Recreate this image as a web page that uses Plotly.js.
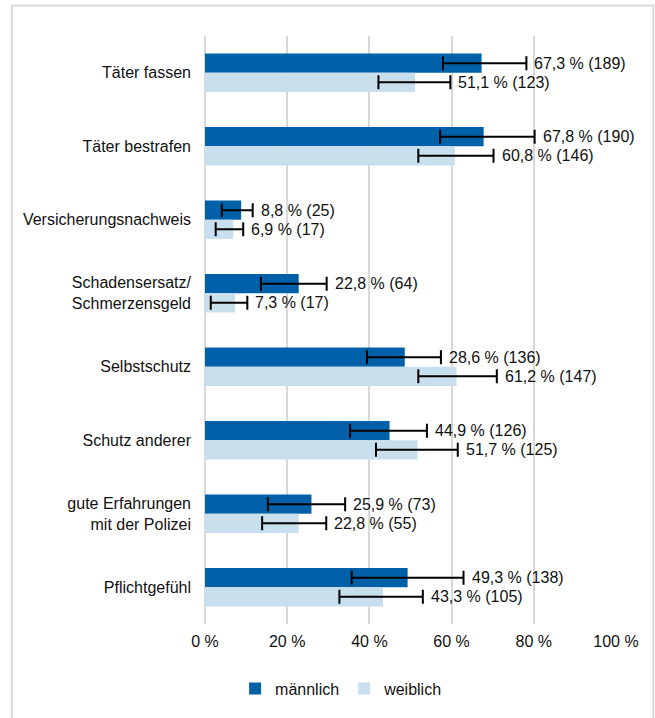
<!DOCTYPE html>
<html>
<head>
<meta charset="utf-8">
<script src="https://cdn.plot.ly/plotly-3.0.1.min.js"></script>
<style>
  html, body { margin: 0; padding: 0; background: #ffffff; }
  #chart { width: 655px; height: 718px; }
</style>
</head>
<body>
<div id="chart"></div>
<script>
// ---- data ----
const categories = [
  "Täter fassen",
  "Täter bestrafen",
  "Versicherungsnachweis",
  "Schadensersatz/<br>Schmerzensgeld",
  "Selbstschutz",
  "Schutz anderer",
  "gute Erfahrungen<br>mit der Polizei",
  "Pflichtgefühl"
];
const seriesNames = ["männlich", "weiblich"];

const valuesM = [67.3, 67.8, 8.8, 22.8, 48.6, 44.9, 25.9, 49.3];
const valuesW = [51.1, 60.8, 6.9, 7.3, 61.2, 51.7, 22.8, 43.3];

const ciLowM  = [57.9, 57.2, 4.1, 13.6, 39.4, 35.3, 15.3, 35.7];
const ciHighM = [78.2, 80.2, 11.6, 29.6, 57.4, 54.0, 34.1, 62.9];
const ciLowW  = [42.2, 51.9, 2.6, 1.4, 51.9, 41.6, 13.9, 32.7];
const ciHighW = [59.7, 70.2, 9.3, 10.3, 71.0, 61.5, 29.5, 53.0];

const labelsM = ["67,3 % (189)", "67,8 % (190)", "8,8 % (25)", "22,8 % (64)",
                 "28,6 % (136)", "44,9 % (126)", "25,9 % (73)", "49,3 % (138)"];
const labelsW = ["51,1 % (123)", "60,8 % (146)", "6,9 % (17)", "7,3 % (17)",
                 "61,2 % (147)", "51,7 % (125)", "22,8 % (55)", "43,3 % (105)"];

const xTickVals = [0, 20, 40, 60, 80, 100];
const xTickText = ["0 %", "20 %", "40 %", "60 %", "80 %", "100 %"];

// ---- styling ----
const colorM = "#0060A8";
const colorW = "#C8DFEE";
const gridColor = "#D9D9D9";
const textColor = "#111111";
const fontFamily = "Liberation Sans, Arial, sans-serif";
const fs = 16;

const W = 655, H = 718;
const margin = { l: 205, r: 39.3, t: 35.5, b: 93.7 };
const plotW = W - margin.l - margin.r;
const plotH = H - margin.t - margin.b;
const px2paperX = (px) => (px - margin.l) / plotW;
const px2paperY = (py) => (H - margin.b - py) / plotH;

const minus = (v, lo) => v.map((x, i) => +(x - lo[i]).toFixed(2));
const plus  = (v, hi) => v.map((x, i) => +(hi[i] - x).toFixed(2));

function barTrace(name, vals, lo, hi, color) {
  return {
    type: "bar",
    orientation: "h",
    name: name,
    y: categories,
    x: vals,
    marker: { color: color, line: { width: 0 } },
    error_x: {
      type: "data",
      symmetric: false,
      array: plus(vals, hi),
      arrayminus: minus(vals, lo),
      color: "#000000",
      thickness: 2,
      width: 7
    },
    hoverinfo: "skip"
  };
}

const traces = [
  barTrace(seriesNames[0], valuesM, ciLowM, ciHighM, colorM),
  barTrace(seriesNames[1], valuesW, ciLowW, ciHighW, colorW)
];

const annotations = [];
categories.forEach((c, i) => {
  annotations.push({
    x: ciHighM[i], y: c, xref: "x", yref: "y",
    text: labelsM[i], showarrow: false,
    xanchor: "left", yanchor: "middle", xshift: 6, yshift: 9.6,
    font: { family: fontFamily, size: fs, color: textColor }
  });
  annotations.push({
    x: ciHighW[i], y: c, xref: "x", yref: "y",
    text: labelsW[i], showarrow: false,
    xanchor: "left", yanchor: "middle", xshift: 6, yshift: -9.6,
    font: { family: fontFamily, size: fs, color: textColor }
  });
});

const layout = {
  width: W, height: H,
  margin: margin,
  paper_bgcolor: "#ffffff",
  plot_bgcolor: "#ffffff",
  font: { family: fontFamily, size: fs, color: textColor },
  barmode: "group",
  bargap: 0.478,
  bargroupgap: 0,
  showlegend: true,
  legend: {
    orientation: "h",
    x: px2paperX(341), xanchor: "center",
    y: px2paperY(689), yanchor: "middle",
    font: { family: fontFamily, size: fs, color: textColor },
    itemwidth: 30,
    traceorder: "normal"
  },
  xaxis: {
    range: [0, 100],
    tickvals: xTickVals,
    ticktext: xTickText,
    showgrid: true,
    gridcolor: gridColor,
    gridwidth: 2,
    zeroline: true,
    zerolinecolor: gridColor,
    zerolinewidth: 2,
    showline: false,
    ticks: "",
    ticklabelstandoff: 6,
    fixedrange: true
  },
  yaxis: {
    type: "category",
    autorange: "reversed",
    showgrid: false,
    zeroline: false,
    showline: false,
    ticks: "",
    ticklabelstandoff: 13,
    fixedrange: true
  },
  annotations: annotations,
  shapes: [{
    type: "rect",
    xref: "paper", yref: "paper",
    x0: px2paperX(12), x1: px2paperX(653),
    y0: px2paperY(730), y1: px2paperY(5),
    line: { color: gridColor, width: 2 },
    fillcolor: "rgba(0,0,0,0)",
    layer: "below"
  }]
};

Plotly.newPlot("chart", traces, layout, { staticPlot: true, displayModeBar: false });
</script>
</body>
</html>
